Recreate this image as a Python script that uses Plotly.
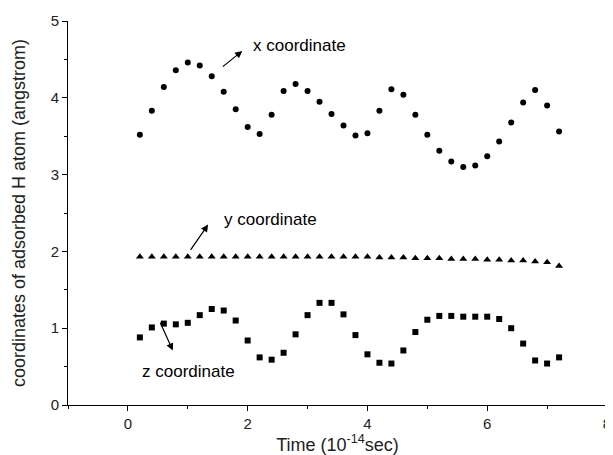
import plotly.graph_objects as go

time = [round(0.2 * i, 1) for i in range(1, 37)]

x_coord = [3.52, 3.83, 4.14, 4.36, 4.46, 4.42, 4.28, 4.08, 3.85, 3.62, 3.53, 3.78,
           4.09, 4.18, 4.09, 3.95, 3.79, 3.64, 3.51, 3.54, 3.83, 4.11, 4.04, 3.78,
           3.52, 3.31, 3.17, 3.10, 3.12, 3.24, 3.43, 3.68, 3.94, 4.10, 3.90, 3.56]

y_coord = [1.93, 1.93, 1.93, 1.93, 1.93, 1.93, 1.93, 1.93, 1.93, 1.93, 1.93, 1.93,
           1.93, 1.93, 1.93, 1.93, 1.93, 1.93, 1.93, 1.93, 1.92, 1.92, 1.92, 1.91,
           1.91, 1.91, 1.90, 1.90, 1.90, 1.89, 1.89, 1.88, 1.88, 1.87, 1.86, 1.81]

z_coord = [0.88, 1.01, 1.06, 1.05, 1.07, 1.17, 1.25, 1.23, 1.10, 0.84, 0.62, 0.59,
           0.68, 0.92, 1.17, 1.33, 1.33, 1.18, 0.91, 0.66, 0.55, 0.54, 0.71, 0.95,
           1.11, 1.16, 1.16, 1.15, 1.15, 1.15, 1.12, 1.00, 0.80, 0.58, 0.54, 0.62]

labels = ["x coordinate", "y coordinate", "z coordinate"]

FONT = "Liberation Sans, Arial, sans-serif"

fig = go.Figure()
fig.add_trace(go.Scatter(x=time, y=x_coord, mode="markers", name=labels[0],
                         marker=dict(symbol="circle", size=6, color="black")))
fig.add_trace(go.Scatter(x=time, y=y_coord, mode="markers", name=labels[1],
                         marker=dict(symbol="triangle-up", size=7, color="black")))
fig.add_trace(go.Scatter(x=time, y=z_coord, mode="markers", name=labels[2],
                         marker=dict(symbol="square", size=6, color="black")))

# text labels
text_pos = [(2.06, 4.68), (1.57, 2.42), (0.21, 0.43)]
for (tx, ty), lab in zip(text_pos, labels):
    fig.add_annotation(x=tx, y=ty, text=lab, showarrow=False, xanchor="left",
                       yanchor="middle", font=dict(family=FONT, size=17, color="black"))

# arrows (head, tail)
arrows = [((1.91, 4.61), (1.56, 4.39)),
          ((1.34, 2.35), (1.03, 2.00)),
          ((0.75, 0.71), (0.53, 1.09))]
for (hx, hy), (tx, ty) in arrows:
    fig.add_annotation(x=hx, y=hy, ax=tx, ay=ty, xref="x", yref="y", axref="x", ayref="y",
                       text="", showarrow=True, arrowhead=2, arrowsize=1.2,
                       arrowwidth=1.2, arrowcolor="black")

fig.update_layout(
    width=605, height=447,
    margin=dict(l=60, r=6, t=13, b=50),
    paper_bgcolor="white", plot_bgcolor="white",
    showlegend=False,
    font=dict(family=FONT, size=15, color="#222"),
)
fig.update_xaxes(range=[-1, 8], dtick=2, tick0=0, showline=True, linecolor="black",
                 linewidth=1, ticks="outside", ticklen=5, tickcolor="black",
                 minor=dict(dtick=1, ticks="outside", ticklen=3, tickcolor="black"),
                 showgrid=False, zeroline=False, automargin=False,
                 ticklabeloverflow="allow",
                 title=dict(text="Time (10<sup>-14</sup>sec)", font=dict(size=18), standoff=12))
fig.update_yaxes(range=[0, 5], dtick=1, tick0=0, showline=True, linecolor="black",
                 linewidth=1, ticks="outside", ticklen=5, tickcolor="black",
                 minor=dict(dtick=0.5, ticks="outside", ticklen=3, tickcolor="black"),
                 showgrid=False, zeroline=False, automargin=False,
                 ticklabeloverflow="allow",
                 title=dict(text="coordinates of adsorbed H atom (angstrom)", font=dict(size=18), standoff=20))

fig.write_html("out.html")
